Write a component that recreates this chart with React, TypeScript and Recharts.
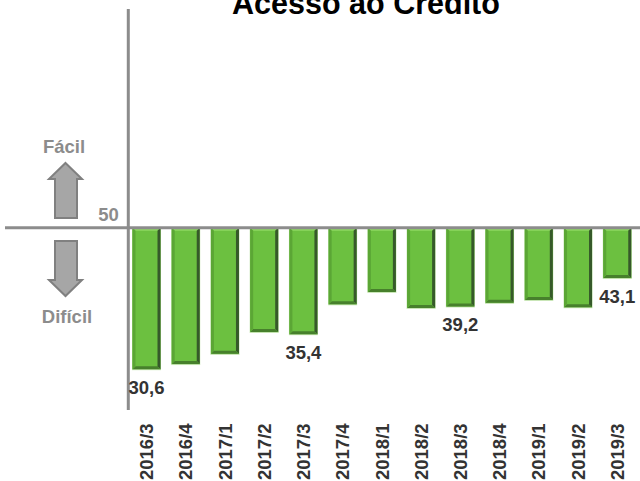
import React from "react";
import { BarChart, Bar, XAxis, YAxis, ReferenceLine, LabelList } from "recharts";

const quarters = ["2016/3","2016/4","2017/1","2017/2","2017/3","2017/4","2018/1","2018/2","2018/3","2018/4","2019/1","2019/2","2019/3"];
const indexValues = [30.6,31.3,32.7,35.7,35.4,39.5,41.2,39.0,39.2,39.7,40.1,39.1,43.1];
const labelled = ["2016/3","2017/3","2018/3","2019/3"];
const neutral = 50;

const rows = quarters.map((q, i) => ({
  q,
  range: [indexValues[i], neutral],
  value: indexValues[i],
}));

const W = 640, H = 481;
const GRAY = "#8c8c8c";
const FONT = "Liberation Sans";

// Bevelled green column: flat face with four shaded edges and a pale rim
function BevelBar(props: any) {
  const { x, y, width, height } = props;
  const e = 3;
  const r = x + width, b = y + height;
  return (
    <g>
      <rect x={x - 0.5} y={y} width={width + 1} height={height + 1} fill="#c4e4b0" />
      <rect x={x} y={y} width={width} height={height} fill="#6cc040" />
      <polygon points={`${x},${y} ${r},${y} ${r - e},${y + e} ${x + e},${y + e}`} fill="#8ed860" />
      <polygon points={`${r},${y} ${r},${b} ${r - e},${b - e} ${r - e},${y + e}`} fill="#36592a" />
      <polygon points={`${x},${b} ${r},${b} ${r - e},${b - e} ${x + e},${b - e}`} fill="#47802c" />
      <polygon points={`${x},${y} ${x + e},${y + e} ${x + e},${b - e} ${x},${b}`} fill="#5ba635" />
    </g>
  );
}

// Value text sits just under the column, for the flagged quarters only
function ValueLabel(props: any) {
  const { x, y, width, height, index } = props;
  const row = rows[index];
  if (!labelled.includes(row.q)) return null;
  return (
    <text x={x + width / 2} y={y + height + 24.5} textAnchor="middle" fontSize={18.5} fontWeight={700} fill="#333333" fontFamily={FONT}>
      {row.value.toFixed(1).replace(".", ",")}
    </text>
  );
}

function Arrow({ up, top }: { up: boolean; top: number }) {
  const L = 55, R = 77, cx = 65.5, wl = 49, wr = 82, h = 55, head = 16;
  const pts = up
    ? `${cx},${top} ${wr},${top + head} ${R},${top + head} ${R},${top + h} ${L},${top + h} ${L},${top + head} ${wl},${top + head}`
    : `${L},${top} ${R},${top} ${R},${top + h - head} ${wr},${top + h - head} ${cx},${top + h} ${wl},${top + h - head} ${L},${top + h - head}`;
  return <polygon points={pts} fill="#a6a6a6" stroke="#808080" strokeWidth={2} />;
}

function XTick(props: any) {
  const { x, payload } = props;
  return (
    <text x={0} y={0} transform={`translate(${x + 6.5},480) rotate(-90)`} fontSize={18.5} fontWeight={700} fill="#333333" fontFamily={FONT}>
      {payload.value}
    </text>
  );
}

export default function App() {
  return (
    <div style={{ position: "absolute", left: 0, top: 0, width: W, height: H, background: "#fff" }}>
      <BarChart
        width={W}
        height={H}
        data={rows}
        margin={{ top: 9, right: 3, bottom: 70, left: 126 }}
        barCategoryGap="14%"
      >
        <XAxis dataKey="q" orientation="bottom" axisLine={false} tickLine={false} interval={0} tick={<XTick />} height={1} />
        <YAxis type="number" domain={[25, 80]} width={1} tick={false} tickLine={false} axisLine={{ stroke: GRAY, strokeWidth: 3, transform: "translate(1.3,0)" }} />
        <Bar dataKey="range" shape={<BevelBar />} isAnimationActive={false}>
          <LabelList content={<ValueLabel />} />
        </Bar>
        <ReferenceLine
          y={neutral}
          shape={(p: any) => <line x1={5} x2={W} y1={p.y1} y2={p.y1} stroke={GRAY} strokeWidth={3} />}
        />
        <text x={366} y={14} textAnchor="middle" fontSize={30.5} fontWeight={700} fill="#000" fontFamily={FONT}>Acesso ao Crédito</text>
        <text x={64} y={153} textAnchor="middle" fontSize={18.5} fontWeight={700} fill="#8c8c8c" fontFamily={FONT}>Fácil</text>
        <text x={67} y={323} textAnchor="middle" fontSize={18.5} fontWeight={700} fill="#8c8c8c" fontFamily={FONT}>Difícil</text>
        <text x={108.5} y={221} textAnchor="middle" fontSize={18.5} fontWeight={700} fill="#8c8c8c" fontFamily={FONT}>50</text>
        <Arrow up top={163} />
        <Arrow up={false} top={241} />
      </BarChart>
    </div>
  );
}
